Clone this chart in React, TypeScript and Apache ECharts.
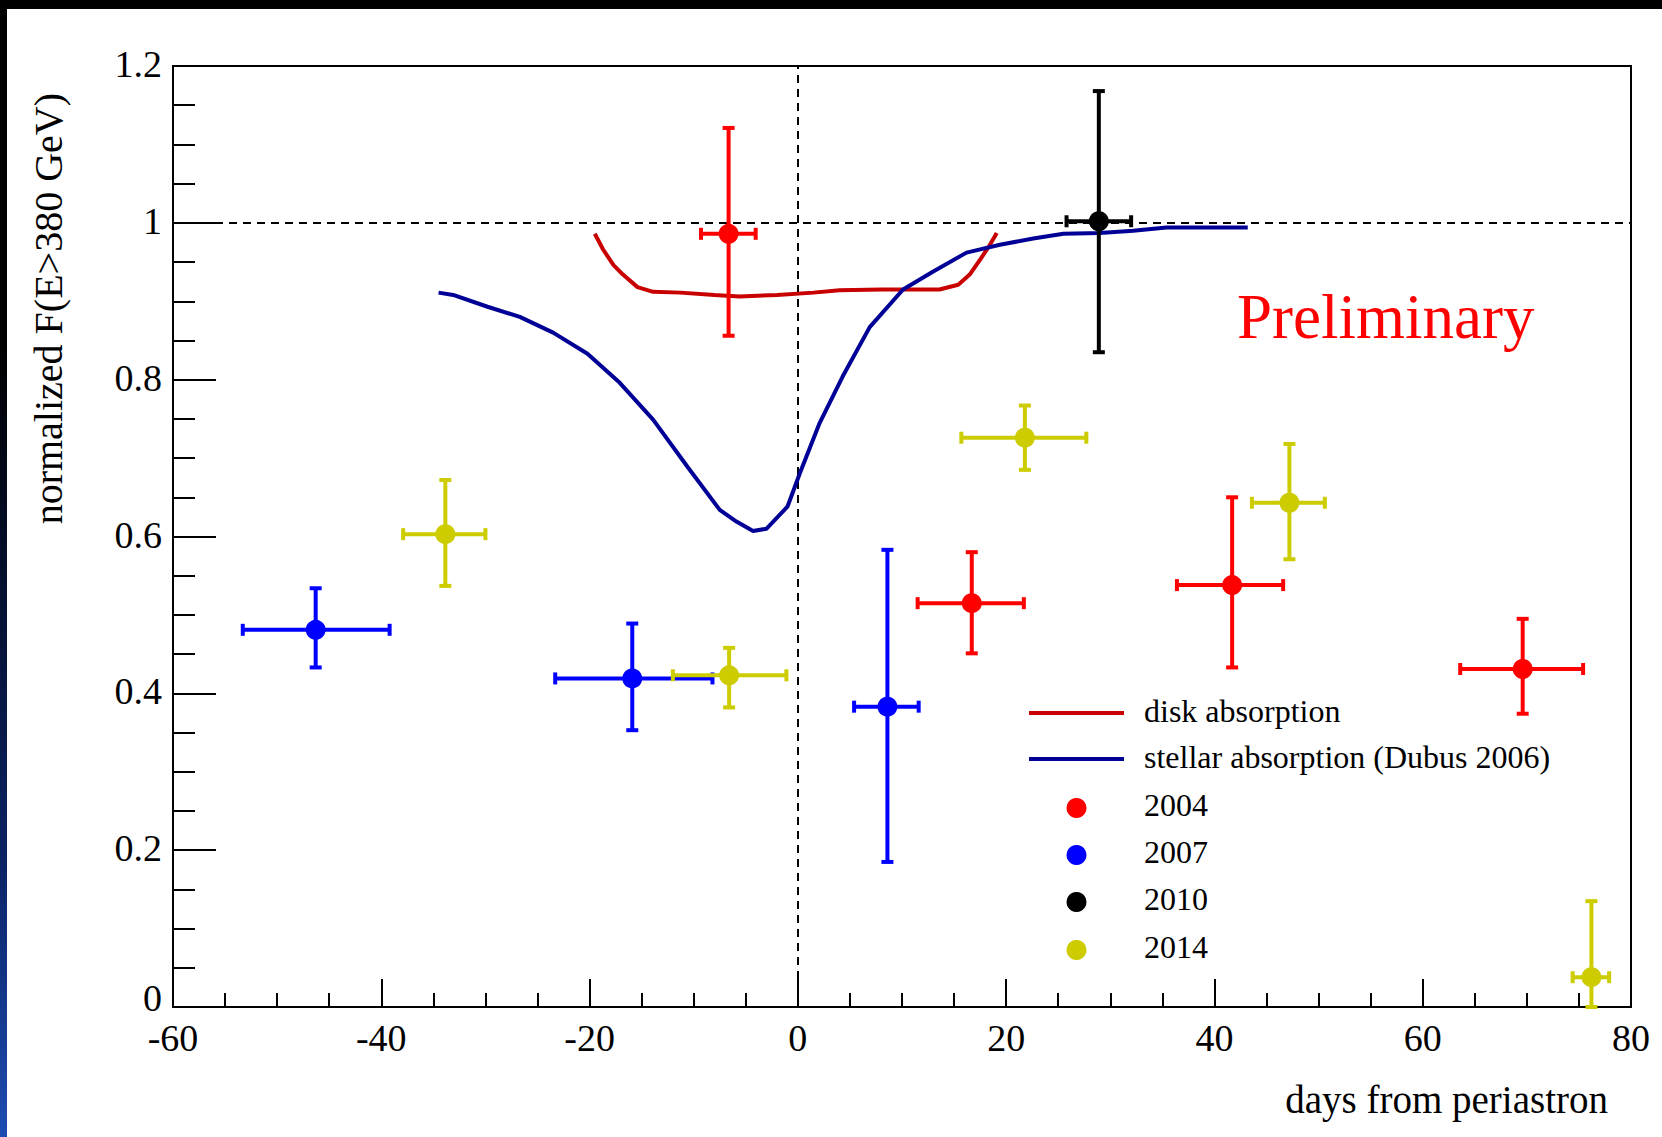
import React, { useEffect, useRef } from "react";
import * as echarts from "echarts";

// ---- axes ----
const xMin = -60;
const xMax = 80;
const xStep = 20;
const yMin = 0;
const yMax = 1.2;
const yStep = 0.2;

// ---- model curves ----
const diskDays = [-19.5, -18.7, -17.7, -16.8, -15.4, -13.9, -11.3, -8.0, -5.6, -2.0, 1.5, 4.0, 8.0, 13.6, 15.4, 16.5, 17.5, 18.3, 19.1];
const diskFlux = [0.986, 0.966, 0.946, 0.934, 0.918, 0.912, 0.911, 0.908, 0.906, 0.908, 0.911, 0.914, 0.915, 0.915, 0.921, 0.934, 0.953, 0.969, 0.987];

const stellarDays = [-34.5, -33.1, -29.8, -26.7, -23.5, -20.2, -17.1, -13.9, -10.6, -7.5, -5.9, -4.3, -3.0, -1.0, 0.2, 2.1, 4.3, 6.9, 10.1, 13.0, 16.2, 19.4, 22.6, 25.5, 29.0, 32.2, 35.4, 43.2];
const stellarFlux = [0.911, 0.908, 0.893, 0.880, 0.860, 0.833, 0.796, 0.749, 0.689, 0.634, 0.619, 0.607, 0.610, 0.638, 0.681, 0.745, 0.804, 0.867, 0.915, 0.938, 0.962, 0.972, 0.980, 0.986, 0.987, 0.990, 0.994, 0.994];

// ---- observations: [day, flux, dayLow, dayHigh, fluxLow, fluxHigh] ----
const obs2004 = [
  [-6.65, 0.986, -9.3, -4.05, 0.856, 1.121],
  [16.7, 0.515, 11.5, 21.7, 0.451, 0.58],
  [41.7, 0.538, 36.4, 46.6, 0.433, 0.65],
  [69.6, 0.431, 63.6, 75.4, 0.374, 0.495],
];
const obs2007 = [
  [-46.3, 0.481, -53.3, -39.2, 0.433, 0.534],
  [-15.9, 0.419, -23.3, -8.2, 0.353, 0.489],
  [8.6, 0.383, 5.4, 11.6, 0.185, 0.583],
];
const obs2010 = [[28.9, 1.002, 25.8, 32.0, 0.835, 1.168]];
const obs2014 = [
  [-33.85, 0.603, -37.9, -30.0, 0.537, 0.672],
  [-6.6, 0.423, -12.0, -1.1, 0.382, 0.458],
  [21.8, 0.726, 15.7, 27.7, 0.685, 0.767],
  [47.2, 0.643, 43.6, 50.6, 0.571, 0.718],
  [76.2, 0.038, 74.4, 77.9, 0.0, 0.135],
];

const modelNames = ["disk absorption", "stellar absorption (Dubus 2006)"];
const modelColors = ["#c80000", "#000096"];
const seasonNames = ["2004", "2007", "2010", "2014"];
const seasonColors = ["#ff0000", "#0000ff", "#000000", "#cccc00"];
const seasonData = [obs2004, obs2007, obs2010, obs2014];

const FONT = "'Liberation Serif', 'Times New Roman', serif";

function makeErrRenderer(color: string) {
  return (params: any, api: any) => {
    const x = api.value(0);
    const y = api.value(1);
    const c = api.coord([x, y]);
    const l = api.coord([api.value(2), y]);
    const r = api.coord([api.value(3), y]);
    const b = api.coord([x, api.value(4)]);
    const t = api.coord([x, api.value(5)]);
    const st = { stroke: color, lineWidth: 4 };
    const cap = 6;
    const line = (x1: number, y1: number, x2: number, y2: number) => ({
      type: "line",
      shape: { x1, y1, x2, y2 },
      style: st,
    });
    return {
      type: "group",
      children: [
        line(l[0], c[1], r[0], c[1]),
        line(c[0], b[1], c[0], t[1]),
        line(l[0], c[1] - cap, l[0], c[1] + cap),
        line(r[0], c[1] - cap, r[0], c[1] + cap),
        line(c[0] - cap, b[1], c[0] + cap, b[1]),
        line(c[0] - cap, t[1], c[0] + cap, t[1]),
        { type: "circle", shape: { cx: c[0], cy: c[1], r: 10 }, style: { fill: color } },
      ],
    };
  };
}

export default function App() {
  const ref = useRef<HTMLDivElement>(null);
  useEffect(() => {
    if (!ref.current) return;
    const chart = echarts.init(ref.current, null, { renderer: "svg" });

    const legendX0 = 1029;
    const legendX1 = 1124;
    const legendTextX = 1144;
    const legendLineY = [713, 759];
    const legendDotY = [808, 855, 902, 950];

    const graphics: any[] = [
      { type: "rect", shape: { x: 0, y: 0, width: 1662, height: 9 }, style: { fill: "#000" }, z: 100 },
      {
        type: "rect",
        shape: { x: 0, y: 0, width: 7, height: 1137 },
        style: {
          fill: new echarts.graphic.LinearGradient(0, 0, 0, 1, [
            { offset: 0, color: "#000000" },
            { offset: 0.3, color: "#000000" },
            { offset: 0.75, color: "#0b2262" },
            { offset: 1, color: "#1c4cb2" },
          ]),
        },
        z: 100,
      },
      {
        type: "text",
        x: 48,
        y: 93,
        rotation: Math.PI / 2,
        style: {
          text: "normalized F(E>380 GeV)",
          font: `40px ${FONT}`,
          fill: "#000",
          align: "right",
          verticalAlign: "middle",
        },
      },
      {
        type: "text",
        x: 1608,
        y: 1099,
        style: {
          text: "days from periastron",
          font: `39px ${FONT}`,
          fill: "#000",
          align: "right",
          verticalAlign: "middle",
        },
      },
      {
        type: "text",
        x: 1237,
        y: 317,
        style: {
          text: "Preliminary",
          font: `63px ${FONT}`,
          fill: "#ff0000",
          align: "left",
          verticalAlign: "middle",
        },
      },
    ];
    modelNames.forEach((n, i) => {
      graphics.push({
        type: "line",
        shape: { x1: legendX0, y1: legendLineY[i], x2: legendX1, y2: legendLineY[i] },
        style: { stroke: modelColors[i], lineWidth: 4 },
      });
      graphics.push({
        type: "text",
        x: legendTextX,
        y: legendLineY[i] - 2,
        style: { text: n, font: `32px ${FONT}`, fill: "#000", align: "left", verticalAlign: "middle" },
      });
    });
    seasonNames.forEach((n, i) => {
      graphics.push({
        type: "circle",
        shape: { cx: (legendX0 + legendX1) / 2, cy: legendDotY[i], r: 10 },
        style: { fill: seasonColors[i] },
      });
      graphics.push({
        type: "text",
        x: legendTextX,
        y: legendDotY[i] - 3,
        style: { text: n, font: `32px ${FONT}`, fill: "#000", align: "left", verticalAlign: "middle" },
      });
    });

    const axisCommon = {
      axisLine: { show: true, onZero: false, lineStyle: { color: "#000", width: 2 } },
      splitLine: { show: false },
      axisLabel: { color: "#000", fontFamily: FONT, fontSize: 38, lineHeight: 28 },
    };

    const series: any[] = [
      {
        name: modelNames[0],
        type: "line",
        data: diskDays.map((d, i) => [d, diskFlux[i]]),
        showSymbol: false,
        symbol: "none",
        lineStyle: { color: modelColors[0], width: 4 },
        color: modelColors[0],
        z: 3,
        markLine: {
          silent: true,
          symbol: "none",
          label: { show: false },
          lineStyle: { color: "#000", width: 2, type: [8, 6] },
          data: [{ xAxis: 0 }, { yAxis: 1 }],
          z: 1,
        },
      },
      {
        name: modelNames[1],
        type: "line",
        data: stellarDays.map((d, i) => [d, stellarFlux[i]]),
        showSymbol: false,
        symbol: "none",
        lineStyle: { color: modelColors[1], width: 4 },
        color: modelColors[1],
        z: 3,
      },
    ];
    seasonNames.forEach((n, i) => {
      series.push({
        name: n,
        type: "custom",
        coordinateSystem: "cartesian2d",
        renderItem: makeErrRenderer(seasonColors[i]),
        encode: { x: [0, 2, 3], y: [1, 4, 5] },
        data: seasonData[i],
        color: seasonColors[i],
        z: 4,
      });
    });

    chart.setOption({
      animation: false,
      backgroundColor: "#ffffff",
      grid: {
        left: 173,
        top: 66,
        width: 1458,
        height: 941,
        show: true,
        borderColor: "#000",
        borderWidth: 2,
        backgroundColor: "transparent",
      },
      xAxis: {
        type: "value",
        min: xMin,
        max: xMax,
        interval: xStep,
        ...axisCommon,
        axisTick: { show: true, inside: true, length: 28, lineStyle: { color: "#000", width: 2 } },
        minorTick: { show: true, splitNumber: 4, length: 14, lineStyle: { color: "#000", width: 2 } },
        axisLabel: { ...axisCommon.axisLabel, margin: 17, showMinLabel: true, showMaxLabel: true },
      },
      yAxis: {
        type: "value",
        min: yMin,
        max: yMax,
        interval: yStep,
        ...axisCommon,
        axisTick: { show: true, inside: true, length: 43, lineStyle: { color: "#000", width: 2 } },
        minorTick: { show: true, splitNumber: 4, length: 22, lineStyle: { color: "#000", width: 2 } },
        axisLabel: {
          ...axisCommon.axisLabel,
          margin: 11,
          padding: [0, 0, 4, 0],
          formatter: (v: number) => (v === 0 ? "{lo|0}" : String(Math.round(v * 10) / 10)),
          rich: {
            lo: { color: "#000", fontFamily: FONT, fontSize: 38, lineHeight: 28, padding: [0, 0, 14, 0] },
          },
        },
      },
      graphic: graphics,
      series,
    });
    return () => chart.dispose();
  }, []);

  return (
    <div
      ref={ref}
      style={{ position: "absolute", left: 0, top: 0, width: 1662, height: 1137, background: "#fff" }}
    />
  );
}
